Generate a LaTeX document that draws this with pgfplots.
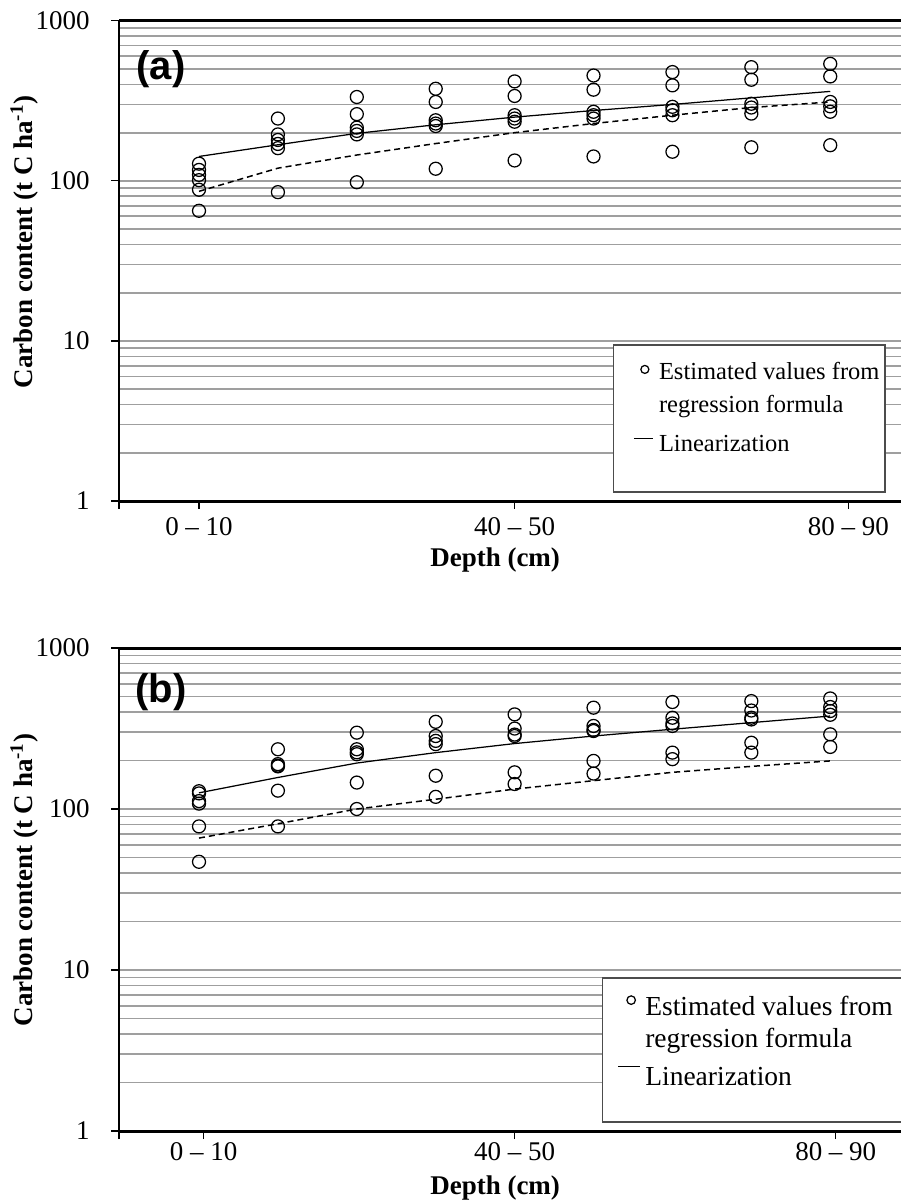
\documentclass[border=0pt]{standalone}
\usepackage{fontspec}
\setmainfont{Liberation Serif}
\newfontfamily\panelfont{Liberation Sans}
\usepackage{pgfplots}
\usepackage{pgfplotstable}
\pgfplotsset{compat=1.18}

% estimated points, panel (a)
\pgfplotstableread{
x y
0 128
0 117
0 109
0 101
0 88
0 65
1 245
1 195
1 180
1 170
1 160
1 85
2 334
2 261
2 215
2 205
2 195
2 98
3 376
3 311
3 239
3 228
3 220
3 119
4 418
4 339
4 257
4 245
4 234
4 134
5 455
5 371
5 270
5 257
5 245
5 142
6 478
6 395
6 290
6 276
6 257
6 152
7 513
7 428
7 303
7 287
7 263
7 162
8 538
8 449
8 311
8 292
8 270
8 167
}\ptsA

% estimated points, panel (b)
\pgfplotstableread{
x y
0 129
0 125
0 112
0 108
0 78
0 47
1 235
1 190
1 186
1 184
1 130
1 78
2 298
2 235
2 225
2 219
2 146
2 100
3 348
3 284
3 265
3 253
3 161
3 119
4 387
4 316
4 290
4 284
4 169
4 143
5 426
5 328
5 310
5 305
5 199
5 166
6 462
6 369
6 340
6 328
6 224
6 204
7 468
7 409
7 369
7 360
7 258
7 224
8 486
8 430
8 406
8 385
8 291
8 243
}\ptsB

\pgfplotsset{
  every axis/.append style={
    scale only axis, width=312.8pt,
    ymin=1, ymax=1000,
    xmin=-1.014, xmax=8.897,
    clip=false,
    ytick={1,10,100,1000}, yticklabels={1,10,100,1000},
    xticklabels={0 – 10,40 – 50,80 – 90},
    extra x ticks={-1.014}, extra x tick labels={},
    axis x line*=bottom, axis y line*=left,
    x axis line style={line width=1.2pt,-},
    y axis line style={line width=0.5pt,-},
    tick align=outside, major tick length=3.2pt, minor tick length=0pt,
    tick style={black,line width=0.5pt},
    ymajorgrids, yminorgrids,
    major grid style={gray!75,line width=0.7pt},
    minor grid style={gray!75,line width=0.7pt},
    tick label style={font=\fontsize{10.8}{12}\selectfont},
    yticklabel style={xshift=-5pt},
    legend cell align=left,
  },
}

\begin{document}
\begin{tikzpicture}
\useasboundingbox (0,0) rectangle (360.4pt,-480.8pt);

\begin{semilogyaxis}[
  at={(47.6pt,-200.4pt)}, anchor=south west, height=192.1pt,
  xtick={0,4,8.23},
  ylabel={Carbon content (t C ha\textsuperscript{-1})},
  xlabel={Depth (cm)},
  ylabel style={at={(rel axis cs:-0.121,0.54)},anchor=center,
    font=\bfseries\fontsize{10.8}{12}\selectfont},
  xlabel style={at={(rel axis cs:0.481,0)},anchor=center,yshift=-23.6pt,
    font=\bfseries\fontsize{10.8}{12}\selectfont},
  legend style={at={(rel axis cs:0.6381,0.321)},anchor=north west,
    draw=none,fill=none,
    font=\fontsize{9.8}{13.2}\selectfont,cells={align=left},
    inner xsep=2pt,inner ysep=4pt,row sep=3.7pt},
]
\draw[black!70,fill=white,line width=0.5pt] (rel axis cs:0.632,0.3248) rectangle (rel axis cs:0.9795,0.0187);
\addplot[only marks,mark=o,mark size=2.6pt,mark options={black,line width=0.5pt},
  legend image code/.code={\path[draw=none] (0,0) rectangle (0.42cm,0); \draw[black,line width=0.5pt] (0.3cm,0.28cm) circle (1.6pt);}]
  table {\ptsA};
\addlegendentry{Estimated values from\\regression formula}
\addplot[black,line width=0.5pt,no marks,
  legend image code/.code={\path[draw=none] (0,0) rectangle (0.42cm,0); \draw[black,line width=0.5pt] (0.146cm,0.1cm) -- (0.42cm,0.1cm);}]
  coordinates {(0,142) (1,168) (2,198) (3,224) (4,250) (5,275) (6,300) (7,330) (8,362)};
\addlegendentry{Linearization}
\addplot[black,line width=0.6pt,dash pattern=on 2.4pt off 1.6pt,forget plot]
  coordinates {(0,86) (1,120) (2,145) (3,171) (4,200) (5,228) (6,257) (7,287) (8,311)};
\draw[line width=1.2pt] (rel axis cs:0,1) -- (rel axis cs:1,1);
\node[font=\panelfont\bfseries\fontsize{16}{18}\selectfont] at (rel axis cs:0.0537,0.9) {(a)};
\end{semilogyaxis}

\begin{semilogyaxis}[
  at={(47.6pt,-452.4pt)}, anchor=south west, height=193.2pt,
  xtick={0.06,4,8.07},
  xticklabel style={yshift=2.2pt},
  ylabel={Carbon content (t C ha\textsuperscript{-1})},
  xlabel={Depth (cm)},
  ylabel style={at={(rel axis cs:-0.121,0.52)},anchor=center,
    font=\bfseries\fontsize{10.8}{12}\selectfont},
  xlabel style={at={(rel axis cs:0.481,0)},anchor=center,yshift=-22.8pt,
    font=\bfseries\fontsize{10.8}{12}\selectfont},
  legend style={at={(rel axis cs:0.6206,0.311)},anchor=north west,
    draw=none,fill=none,
    font=\fontsize{11}{12.6}\selectfont,cells={align=left},
    inner xsep=2pt,inner ysep=4pt,row sep=2.5pt},
]
\draw[black!70,fill=white,line width=0.5pt] (rel axis cs:0.618,0.317) rectangle (rel axis cs:1.03,0.0186);
\addplot[only marks,mark=o,mark size=2.6pt,mark options={black,line width=0.5pt},
  legend image code/.code={\path[draw=none] (0,0) rectangle (0.42cm,0); \draw[black,line width=0.5pt] (0.3cm,0.33cm) circle (1.7pt);}]
  table {\ptsB};
\addlegendentry{Estimated values from\\regression formula}
\addplot[black,line width=0.5pt,no marks,
  legend image code/.code={\path[draw=none] (0,0) rectangle (0.42cm,0); \draw[black,line width=0.5pt] (0.12cm,0.16cm) -- (0.42cm,0.16cm);}]
  coordinates {(0,126) (1,157) (2,193) (3,224) (4,255) (5,284) (6,313) (7,344) (8,378)};
\addlegendentry{Linearization}
\addplot[black,line width=0.6pt,dash pattern=on 2.4pt off 1.6pt,forget plot]
  coordinates {(0,66) (1,81) (2,100) (3,115) (4,133) (5,150) (6,169) (7,184) (8,199)};
\draw[line width=1.2pt] (rel axis cs:0,1) -- (rel axis cs:1,1);
\node[font=\panelfont\bfseries\fontsize{16}{18}\selectfont] at (rel axis cs:0.0537,0.909) {(b)};
\end{semilogyaxis}
\end{tikzpicture}
\end{document}
